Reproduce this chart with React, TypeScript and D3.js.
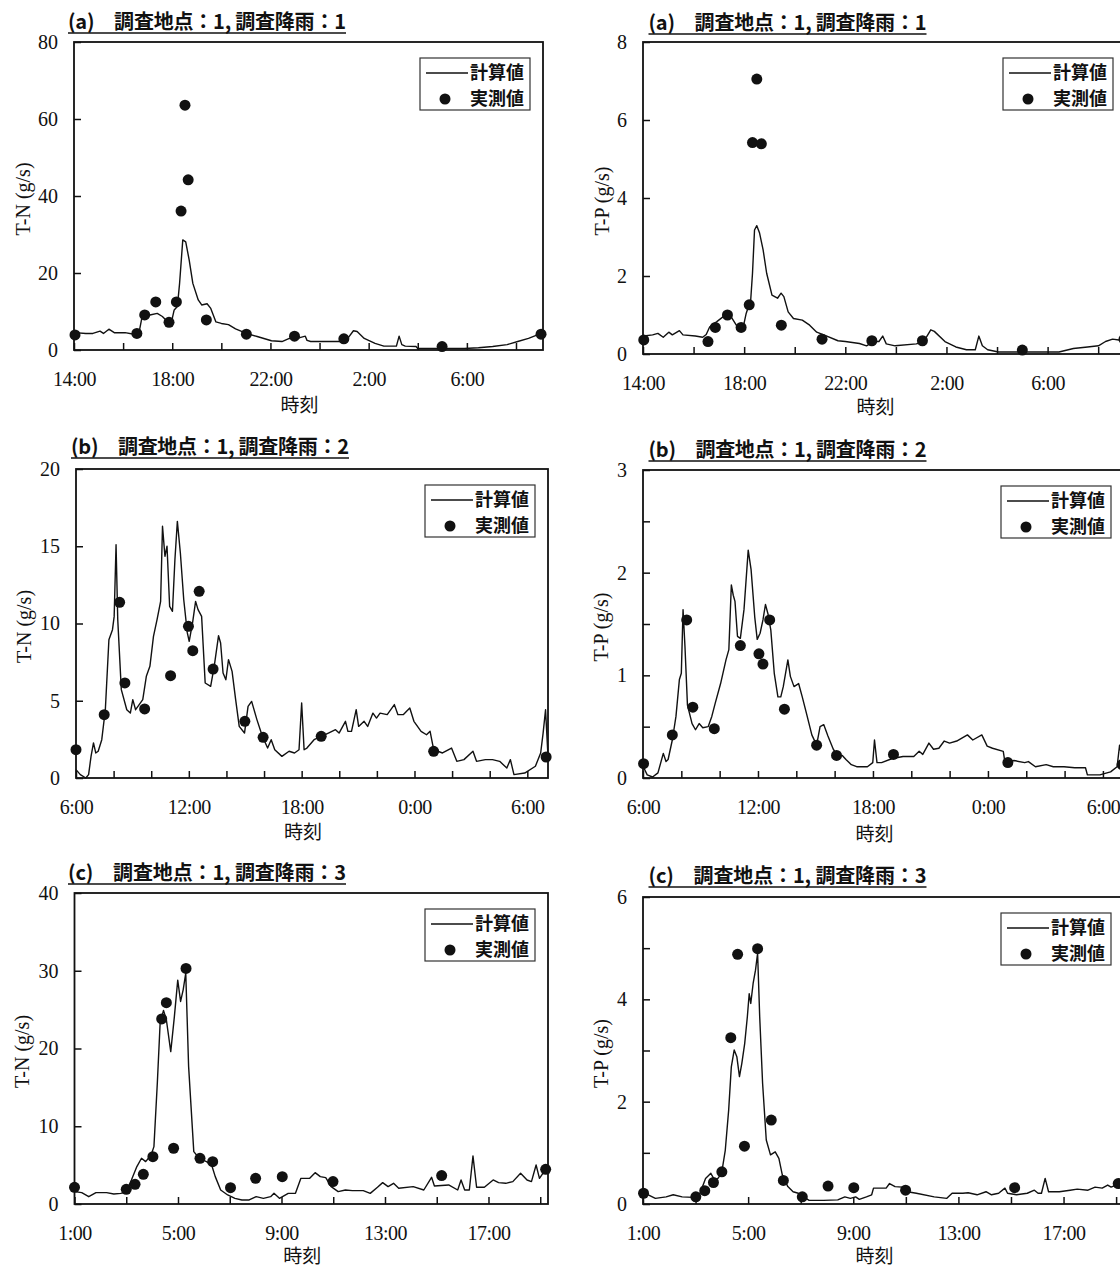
import React, { useEffect, useRef } from 'react';
import * as d3 from 'd3';

type Pt = [number, number];

// x = hours after the start of each event, y = load (g/s)

// (a) 14:00 start
const tnCalcA: Pt[] = [
  [0.04, 4.5], [0.48, 4.3], [0.77, 4.3], [1.06, 4.9], [1.2, 4.3], [1.42, 5.4], [1.64, 4.5], [2.08, 4.5],
  [2.44, 4.1], [2.66, 4.9], [2.76, 8.2], [3.09, 9.1], [3.39, 9.5], [3.6, 8.7], [3.82, 7.3], [3.97, 7.3],
  [4.08, 10.4], [4.21, 11.3], [4.3, 17.3], [4.43, 28.6], [4.55, 28.1], [4.69, 23.4], [4.84, 17.3], [5.06, 13.0],
  [5.2, 11.7], [5.42, 12.0], [5.57, 10.8], [5.78, 7.3], [6.0, 6.9], [6.29, 6.6], [6.58, 5.5], [7.02, 4.3],
  [7.46, 3.5], [8.04, 2.4], [8.47, 2.2], [8.77, 3.0], [9.2, 3.2], [9.42, 3.6], [9.49, 2.5], [9.64, 2.2],
  [10.0, 2.2], [10.95, 2.2], [11.17, 3.2], [11.38, 5.0], [11.53, 4.8], [11.82, 3.0], [12.26, 1.7], [12.62, 1.0],
  [13.13, 1.0], [13.24, 3.6], [13.35, 1.4], [13.49, 1.0], [13.93, 0.9], [14.0, 0.4], [14.44, 0.4], [15.16, 0.4],
  [15.89, 0.4], [16.47, 0.6], [17.05, 0.9], [17.64, 1.4], [18.07, 2.2], [18.51, 3.0], [18.95, 4.1],
];
const tnObsA: Pt[] = [
  [0.04, 3.9], [2.56, 4.3], [2.88, 9.1], [3.33, 12.5], [3.87, 7.2], [4.17, 12.5], [4.36, 36.1], [4.52, 63.6],
  [4.65, 44.2], [5.39, 7.8], [7.02, 4.1], [8.98, 3.6], [10.99, 2.9], [14.99, 0.9], [19.02, 4.1],
];
const tpCalcA: Pt[] = [
  [0.03, 0.46], [0.38, 0.49], [0.59, 0.53], [0.8, 0.43], [1.02, 0.56], [1.16, 0.49], [1.44, 0.6], [1.58, 0.49],
  [2.07, 0.46], [2.36, 0.43], [2.5, 0.5], [2.64, 0.7], [2.92, 0.83], [3.2, 0.97], [3.48, 0.96], [3.69, 0.74],
  [3.98, 0.74], [4.08, 1.04], [4.26, 1.39], [4.33, 2.07], [4.41, 3.18], [4.5, 3.29], [4.61, 3.1], [4.75, 2.67],
  [4.89, 2.07], [5.1, 1.51], [5.32, 1.43], [5.46, 1.56], [5.57, 1.47], [5.74, 1.08], [5.95, 0.91], [6.3, 0.87],
  [6.59, 0.74], [6.87, 0.56], [7.15, 0.49], [7.71, 0.34], [8.0, 0.32], [8.56, 0.27], [8.84, 0.21], [9.12, 0.32],
  [9.33, 0.32], [9.48, 0.46], [9.62, 0.26], [9.97, 0.21], [10.81, 0.26], [11.1, 0.32], [11.38, 0.62], [11.52, 0.58],
  [11.94, 0.32], [12.37, 0.18], [12.79, 0.11], [13.14, 0.11], [13.28, 0.46], [13.42, 0.21], [13.63, 0.11],
  [14.06, 0.05], [15.05, 0.05], [16.45, 0.05], [17.02, 0.14], [17.58, 0.18], [18.01, 0.21], [18.29, 0.32],
  [18.57, 0.38], [18.82, 0.36], [19.05, 0.38],
];
const tpObsA: Pt[] = [
  [0.03, 0.36], [2.57, 0.32], [2.86, 0.68], [3.34, 1.0], [3.88, 0.68], [4.2, 1.26], [4.33, 5.42], [4.5, 7.05],
  [4.68, 5.39], [5.47, 0.74], [7.08, 0.38], [9.05, 0.34], [11.05, 0.34], [15.0, 0.1], [19.02, 0.38],
];

// (b) 6:00 start
const tnCalcB: Pt[] = [
  [0, 0.54], [0.23, 0.22], [0.52, 0], [0.67, 0.22], [0.8, 1.4], [0.93, 2.27], [1.05, 1.62], [1.18, 1.73],
  [1.37, 2.48], [1.56, 4.42], [1.75, 8.95], [1.94, 9.6], [2.03, 10.46], [2.13, 15.1], [2.22, 10.25], [2.41, 5.72],
  [2.7, 4.42], [2.89, 4.2], [3.02, 5.07], [3.17, 4.42], [3.36, 4.75], [3.55, 5.07], [3.74, 6.58], [3.93, 7.23],
  [4.12, 9.17], [4.31, 10.25], [4.5, 11.43], [4.6, 16.29], [4.73, 14.35], [4.84, 15.0], [4.98, 11.11], [5.13, 10.79],
  [5.26, 14.13], [5.39, 16.61], [5.55, 14.56], [5.73, 11.54], [5.92, 9.39], [6.02, 8.85], [6.21, 10.14], [6.36, 11.43],
  [6.49, 10.9], [6.68, 10.46], [6.87, 6.15], [7.16, 5.93], [7.35, 7.23], [7.58, 9.21], [7.69, 8.74], [7.82, 6.8],
  [7.97, 6.36], [8.11, 7.66], [8.3, 6.9], [8.49, 5.07], [8.68, 3.34], [8.96, 2.91], [9.15, 4.64], [9.34, 4.96],
  [9.62, 3.78], [9.91, 2.7], [10.19, 1.94], [10.38, 2.48], [10.57, 1.83], [10.95, 1.4], [11.33, 1.73], [11.62, 1.62],
  [11.86, 1.83], [12.0, 4.85], [12.13, 1.83], [12.28, 1.94], [12.66, 2.48], [13.04, 2.7], [13.42, 2.91], [13.8, 3.13],
  [13.99, 2.91], [14.33, 3.67], [14.46, 3.02], [14.65, 3.02], [14.9, 4.42], [15.03, 3.34], [15.32, 3.67], [15.51, 3.34],
  [15.79, 4.2], [15.98, 3.88], [16.17, 4.2], [16.55, 4.1], [16.93, 4.75], [17.12, 4.1], [17.4, 4.1], [17.75, 4.53],
  [17.97, 3.67], [18.35, 3.02], [18.64, 2.8], [18.83, 3.02], [19.02, 1.83], [19.49, 1.62], [19.97, 1.94], [20.25, 1.08],
  [20.63, 1.19], [21.11, 1.73], [21.3, 1.08], [21.77, 1.19], [22.15, 1.19], [22.53, 1.08], [22.91, 0.65], [23.1, 1.19],
  [23.29, 0.22], [23.86, 0.32], [24.43, 0.76], [24.71, 1.62], [24.84, 2.91], [24.97, 4.42], [25.09, 1.62],
];
const tnObsB: Pt[] = [
  [0, 1.83], [1.5, 4.1], [2.32, 11.37], [2.6, 6.15], [3.65, 4.47], [5.03, 6.62], [5.98, 9.82], [6.21, 8.24],
  [6.55, 12.08], [7.29, 7.05], [8.98, 3.67], [9.95, 2.63], [13.04, 2.7], [19.02, 1.73], [25.0, 1.36],
];
const tpCalcB: Pt[] = [
  [0.04, 0.1], [0.22, 0.03], [0.5, 0.01], [0.78, 0.05], [1.06, 0.24], [1.2, 0.16], [1.31, 0.18], [1.53, 0.37],
  [1.72, 0.6], [1.9, 0.96], [2.0, 1.02], [2.09, 1.64], [2.19, 1.28], [2.32, 0.71], [2.56, 0.53], [2.74, 0.47],
  [2.93, 0.53], [3.12, 0.49], [3.4, 0.5], [3.59, 0.6], [3.77, 0.73], [4.05, 0.92], [4.33, 1.15], [4.48, 1.25],
  [4.61, 1.88], [4.71, 1.78], [4.8, 1.72], [4.93, 1.38], [5.08, 1.36], [5.27, 1.64], [5.49, 2.22], [5.64, 2.03],
  [5.83, 1.57], [5.96, 1.35], [6.11, 1.41], [6.26, 1.54], [6.39, 1.69], [6.52, 1.6], [6.67, 1.44], [6.85, 1.02],
  [7.04, 0.79], [7.19, 0.79], [7.32, 0.89], [7.56, 1.15], [7.69, 0.99], [7.88, 0.89], [8.12, 0.92], [8.31, 0.79],
  [8.53, 0.63], [8.81, 0.42], [9.06, 0.32], [9.24, 0.5], [9.43, 0.52], [9.65, 0.41], [9.93, 0.28], [10.18, 0.21],
  [10.4, 0.22], [10.59, 0.18], [10.87, 0.13], [11.15, 0.11], [11.71, 0.11], [11.99, 0.15], [12.08, 0.37], [12.21, 0.15],
  [12.45, 0.15], [13.01, 0.19], [13.57, 0.21], [14.13, 0.21], [14.41, 0.26], [14.6, 0.23], [14.92, 0.34], [15.16, 0.28],
  [15.44, 0.29], [15.72, 0.36], [16.0, 0.34], [16.37, 0.36], [16.93, 0.42], [17.21, 0.37], [17.68, 0.42], [17.96, 0.31],
  [18.24, 0.29], [18.8, 0.26], [18.89, 0.15], [19.36, 0.17], [19.92, 0.15], [20.11, 0.16], [20.48, 0.11], [21.04, 0.13],
  [21.41, 0.11], [21.97, 0.11], [22.53, 0.1], [23.09, 0.1], [23.19, 0.03], [23.47, 0.03], [23.84, 0.03], [24.4, 0.06],
  [24.74, 0.11], [24.87, 0.32], [25.05, 0.14],
];
const tpObsB: Pt[] = [
  [0.03, 0.14], [1.53, 0.42], [2.28, 1.54], [2.6, 0.69], [3.72, 0.48], [5.08, 1.29], [6.05, 1.21], [6.26, 1.11],
  [6.61, 1.54], [7.38, 0.67], [9.06, 0.32], [10.1, 0.22], [13.07, 0.23], [19.04, 0.15], [25.0, 0.13],
];

// (c) 1:00 start
const tnCalcC: Pt[] = [
  [0, 1.59], [0.28, 1.46], [0.55, 0.94], [0.83, 1.46], [1.24, 1.46], [1.52, 1.29], [1.79, 1.37], [2.0, 1.59],
  [2.2, 3.09], [2.41, 4.81], [2.59, 5.88], [2.75, 5.45], [2.96, 6.31], [3.07, 7.38], [3.2, 15.5], [3.31, 23.3],
  [3.44, 24.9], [3.55, 23.7], [3.72, 19.6], [3.86, 24.1], [3.99, 28.8], [4.1, 26.05], [4.2, 27.55], [4.3, 29.7],
  [4.41, 17.7], [4.61, 6.74], [4.82, 5.88], [5.1, 5.45], [5.3, 5.02], [5.44, 3.52], [5.65, 1.8], [5.92, 1.16],
  [6.2, 0.73], [6.47, 0.52], [6.75, 0.52], [7.02, 0.94], [7.3, 0.73], [7.58, 0.94], [7.71, 1.37], [7.92, 0.73],
  [8.26, 1.37], [8.54, 1.37], [8.75, 3.3], [9.09, 3.3], [9.3, 4.03], [9.5, 3.52], [9.71, 3.39], [9.92, 2.23],
  [10.19, 1.59], [10.47, 1.8], [10.74, 1.72], [11.16, 1.72], [11.43, 1.37], [11.71, 2.15], [11.91, 2.75], [12.12, 2.23],
  [12.33, 2.66], [12.53, 2.02], [13.09, 2.23], [13.5, 1.8], [13.8, 3.43], [13.91, 2.32], [14.46, 2.45], [14.81, 1.8],
  [14.94, 3.09], [15.08, 1.8], [15.26, 1.8], [15.4, 6.18], [15.54, 2.15], [15.84, 2.15], [16.18, 3.09], [16.39, 2.75],
  [16.67, 2.66], [16.94, 2.88], [17.24, 3.95], [17.49, 3.09], [17.66, 2.88], [17.84, 5.02], [17.97, 3.3], [18.21, 4.46],
];
const tnObsC: Pt[] = [
  [0, 2.15], [2.0, 1.89], [2.34, 2.53], [2.66, 3.82], [3.03, 6.09], [3.37, 23.8], [3.55, 25.9], [3.83, 7.17],
  [4.31, 30.3], [4.85, 5.88], [5.34, 5.45], [6.03, 2.1], [7.0, 3.3], [8.03, 3.52], [9.99, 2.88], [14.19, 3.65],
  [18.21, 4.46],
];
const tpCalcC: Pt[] = [
  [0.02, 0.21], [0.2, 0.18], [0.47, 0.11], [0.88, 0.14], [1.15, 0.18], [1.49, 0.14], [1.9, 0.13], [2.01, 0.08],
  [2.17, 0.21], [2.38, 0.5], [2.58, 0.6], [2.72, 0.47], [2.85, 0.5], [2.99, 0.6], [3.13, 1.05], [3.26, 1.84],
  [3.36, 2.68], [3.47, 3.01], [3.57, 2.88], [3.67, 2.49], [3.76, 2.75], [3.87, 3.14], [3.97, 3.66], [4.04, 4.11],
  [4.1, 3.92], [4.19, 4.31], [4.28, 4.57], [4.36, 4.9], [4.44, 3.66], [4.55, 2.36], [4.69, 1.25], [4.85, 0.96],
  [5.03, 1.02], [5.17, 0.89], [5.3, 0.57], [5.51, 0.34], [5.71, 0.24], [5.91, 0.21], [6.32, 0.07], [6.87, 0.07],
  [7.41, 0.08], [7.68, 0.14], [7.89, 0.11], [8.09, 0.14], [8.23, 0.09], [8.5, 0.14], [8.7, 0.18], [8.77, 0.31],
  [9.25, 0.31], [9.38, 0.4], [9.59, 0.34], [9.86, 0.33], [10.06, 0.24], [10.4, 0.21], [11.08, 0.14], [11.56, 0.11],
  [11.76, 0.21], [12.17, 0.21], [12.37, 0.22], [12.71, 0.18], [13.05, 0.24], [13.26, 0.18], [13.53, 0.21], [13.77, 0.31],
  [13.87, 0.21], [14.21, 0.18], [14.62, 0.21], [14.89, 0.27], [15.03, 0.21], [15.16, 0.21], [15.3, 0.5], [15.43, 0.24],
  [15.84, 0.24], [16.25, 0.27], [16.52, 0.29], [16.93, 0.27], [17.2, 0.33], [17.47, 0.31], [17.68, 0.37], [17.81, 0.33],
  [18.13, 0.4], [18.3, 0.38],
];
const tpObsC: Pt[] = [
  [0.02, 0.21], [2.01, 0.14], [2.35, 0.26], [2.68, 0.42], [3.0, 0.63], [3.34, 3.25], [3.6, 4.88], [3.86, 1.13],
  [4.36, 4.99], [4.88, 1.64], [5.34, 0.46], [6.06, 0.14], [7.04, 0.35], [8.02, 0.32], [9.99, 0.27], [14.14, 0.32],
  [18.08, 0.4],
];

const titles = [
  '(a)\u3000調査地点：1, 調査降雨：1',
  '(b)\u3000調査地点：1, 調査降雨：2',
  '(c)\u3000調査地点：1, 調査降雨：3',
];
const xLabelsA = ['14:00', '18:00', '22:00', '2:00', '6:00'];
const xHoursA = [0, 4, 8, 12, 16];
const xLabelsB = ['6:00', '12:00', '18:00', '0:00', '6:00'];
const xHoursB = [0, 6, 12, 18, 24];
const xLabelsC = ['1:00', '5:00', '9:00', '13:00', '17:00'];
const xHoursC = [0, 4, 8, 12, 16];

const yTicksTnA = [0, 20, 40, 60, 80];
const yTicksTpA = [0, 2, 4, 6, 8];
const yTicksTnB = [0, 5, 10, 15, 20];
const yTicksTpB = [0, 1, 2, 3];
const yMinorTpB = [0.5, 1.5, 2.5];
const yTicksTnC = [0, 10, 20, 30, 40];
const yTicksTpC = [0, 2, 4, 6];
const yMinorTpC = [1, 3, 5];

const legendLabels = ['計算値', '実測値'];

const SERIF = "'Liberation Serif', 'DejaVu Serif', serif";
const CJK = "'Noto Sans CJK JP', 'Noto Sans', sans-serif";
const INK = '#111';

// box = [left, top, right, bottom]
const panels = [
  { title: titles[0], yLabel: 'T-N (g/s)', calc: tnCalcA, obs: tnObsA, xMax: 19.1, yTicks: yTicksTnA, yMinor: [] as number[],
    xLabels: xLabelsA, xHours: xHoursA, box: [74, 42, 543, 350], titleAt: [68, 29], yLabelX: 23, xTitleDy: 62 },
  { title: titles[0], yLabel: 'T-P (g/s)', calc: tpCalcA, obs: tpObsA, xMax: 19.1, yTicks: yTicksTpA, yMinor: [] as number[],
    xLabels: xLabelsA, xHours: xHoursA, box: [643, 42, 1126, 354], titleAt: [648.5, 30], yLabelX: 602, xTitleDy: 60 },
  { title: titles[1], yLabel: 'T-N (g/s)', calc: tnCalcB, obs: tnObsB, xMax: 25.1, yTicks: yTicksTnB, yMinor: [] as number[],
    xLabels: xLabelsB, xHours: xHoursB, box: [76, 469, 548, 778], titleAt: [71, 454], yLabelX: 24, xTitleDy: 61 },
  { title: titles[1], yLabel: 'T-P (g/s)', calc: tpCalcB, obs: tpObsB, xMax: 25.1, yTicks: yTicksTpB, yMinor: yMinorTpB,
    xLabels: xLabelsB, xHours: xHoursB, box: [643, 470, 1124, 778], titleAt: [648.5, 457], yLabelX: 601, xTitleDy: 63 },
  { title: titles[2], yLabel: 'T-N (g/s)', calc: tnCalcC, obs: tnObsC, xMax: 18.3, yTicks: yTicksTnC, yMinor: [] as number[],
    xLabels: xLabelsC, xHours: xHoursC, box: [74.5, 893, 548, 1204], titleAt: [68, 880], yLabelX: 22, xTitleDy: 59 },
  { title: titles[2], yLabel: 'T-P (g/s)', calc: tpCalcC, obs: tpObsC, xMax: 18.3, yTicks: yTicksTpC, yMinor: yMinorTpC,
    xLabels: xLabelsC, xHours: xHoursC, box: [643, 897, 1124, 1204], titleAt: [648.5, 883], yLabelX: 601, xTitleDy: 59 },
];

const App = () => {
  const svgRef = useRef<SVGSVGElement>(null);

  useEffect(() => {
    const svg = d3.select(svgRef.current);
    svg.selectAll('*').remove();
    panels.forEach((p) => drawPanel(svg, p));
  }, []);

  const drawPanel = (svg: any, p: typeof panels[number]) => {
    const [x0, y0, x1, y1] = p.box;
    const yMax = p.yTicks[p.yTicks.length - 1];
    const x = d3.scaleLinear().domain([0, p.xMax]).range([x0, x1]);
    const y = d3.scaleLinear().domain([0, yMax]).range([y1, y0]);
    const g = svg.append('g');

    // title with underline
    const [tx, ty] = p.titleAt;
    g.append('text')
      .attr('x', tx)
      .attr('y', ty)
      .attr('font-family', CJK)
      .attr('font-size', 20)
      .attr('font-weight', 'bold')
      .attr('textLength', 278)
      .attr('lengthAdjust', 'spacing')
      .attr('fill', INK)
      .text(p.title);
    g.append('line')
      .attr('x1', tx).attr('x2', tx + 278)
      .attr('y1', ty + 4).attr('y2', ty + 4)
      .attr('stroke', INK).attr('stroke-width', 1.5);

    // x axis (ticks point inward)
    const xAxis = d3.axisBottom(x)
      .tickValues(d3.range(0, p.xMax, 2))
      .tickSize(-7)
      .tickPadding(22)
      .tickFormat((h: any) => {
        const i = p.xHours.indexOf(+h);
        return i < 0 ? '' : p.xLabels[i];
      });
    const gx = g.append('g').attr('transform', `translate(0,${y1})`).call(xAxis);
    gx.select('.domain').remove();
    gx.selectAll('line').attr('stroke', INK).attr('stroke-width', 1.5);
    gx.selectAll('text')
      .attr('font-family', SERIF).attr('font-size', 20).attr('fill', INK).attr('letter-spacing', -0.5);

    // y axis
    const yAxis = d3.axisLeft(y)
      .tickValues([...p.yTicks, ...p.yMinor])
      .tickSize(-7)
      .tickPadding(16)
      .tickFormat((v: any) => (p.yTicks.includes(+v) ? String(v) : ''));
    const gy = g.append('g').attr('transform', `translate(${x0},0)`).call(yAxis);
    gy.select('.domain').remove();
    gy.selectAll('line').attr('stroke', INK).attr('stroke-width', 1.5);
    gy.selectAll('text')
      .attr('font-family', SERIF).attr('font-size', 20).attr('fill', INK);

    // frame
    g.append('rect')
      .attr('x', x0).attr('y', y0)
      .attr('width', x1 - x0).attr('height', y1 - y0)
      .attr('fill', 'none').attr('stroke', INK).attr('stroke-width', 1.8);

    // axis titles
    g.append('text')
      .attr('transform', `translate(${p.yLabelX},${(y0 + y1) / 2 + 3}) rotate(-90)`)
      .attr('text-anchor', 'middle')
      .attr('dy', '0.35em')
      .attr('font-family', SERIF).attr('font-size', 20).attr('fill', INK)
      .text(p.yLabel);
    g.append('text')
      .attr('x', (x0 + x1) / 2 - 9)
      .attr('y', y1 + p.xTitleDy)
      .attr('text-anchor', 'middle')
      .attr('font-family', CJK).attr('font-size', 19).attr('fill', INK)
      .text('時刻');

    // computed line
    const line = d3.line<Pt>().x((d) => x(d[0])).y((d) => y(d[1]));
    g.append('path')
      .datum(p.calc)
      .attr('fill', 'none')
      .attr('stroke', INK)
      .attr('stroke-width', 1.4)
      .attr('stroke-linejoin', 'round')
      .attr('d', line);

    // observed points
    g.selectAll('.dot')
      .data(p.obs)
      .enter().append('circle')
      .attr('class', 'dot')
      .attr('cx', (d: Pt) => x(d[0]))
      .attr('cy', (d: Pt) => y(d[1]))
      .attr('r', 5.5)
      .attr('fill', INK);

    // legend
    const lx = x1 - 13 - 110;
    const ly = y0 + 16;
    const lg = g.append('g').attr('transform', `translate(${lx},${ly})`);
    lg.append('rect')
      .attr('width', 110).attr('height', 52)
      .attr('fill', '#fff').attr('stroke', '#333').attr('stroke-width', 1.2);
    lg.append('line')
      .attr('x1', 6).attr('x2', 48).attr('y1', 15).attr('y2', 15)
      .attr('stroke', INK).attr('stroke-width', 1.4);
    lg.append('circle').attr('cx', 25).attr('cy', 41).attr('r', 5.5).attr('fill', INK);
    legendLabels.forEach((t, i) => {
      lg.append('text')
        .attr('x', 50).attr('y', 15 + i * 26)
        .attr('dy', '0.36em')
        .attr('font-family', CJK).attr('font-size', 18).attr('font-weight', 'bold')
        .attr('fill', INK)
        .text(t);
    });
  };

  return (
    <svg
      ref={svgRef}
      width={1120}
      height={1270}
      style={{ position: 'absolute', left: 0, top: 0, background: '#fff' }}
    />
  );
};

export default App;
